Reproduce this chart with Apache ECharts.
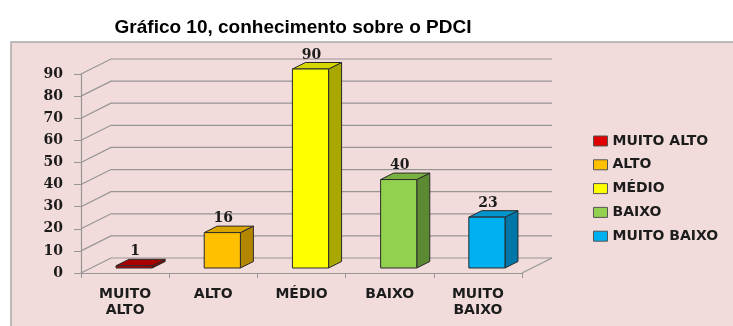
<!DOCTYPE html>
<html>
<head>
<meta charset="utf-8">
<script src="https://cdn.jsdelivr.net/npm/echarts@6/dist/echarts.min.js"></script>
<style>
  html, body { margin: 0; padding: 0; background: #ffffff; }
  #chart { width: 733px; height: 326px; }
</style>
</head>
<body>
<div id="chart"></div>
<script>
// Survey answers: knowledge about the PDCI
const categories = ['MUITO ALTO', 'ALTO', 'MÉDIO', 'BAIXO', 'MUITO BAIXO'];
const values = [1, 16, 90, 40, 23];
const yTicks = [0, 10, 20, 30, 40, 50, 60, 70, 80, 90];

// face colours per bar: front, side, top, legend swatch
const palette = [
  { front: '#C00000', side: '#8A0000', top: '#A80000', key: '#E00000' },
  { front: '#FFC000', side: '#B38600', top: '#D9A400', key: '#FFC000' },
  { front: '#FFFF00', side: '#A8A800', top: '#D6D600', key: '#FFFF00' },
  { front: '#92D050', side: '#5C8A32', top: '#7AB040', key: '#92D050' },
  { front: '#00B0F0', side: '#0076A8', top: '#0094CC', key: '#00B0F0' }
];

// pseudo-3D depth of the plot (back wall offset) and of each bar
const WALL_DX = 30, WALL_DY = -15;
const BAR_OFF_DX = 9, BAR_OFF_DY = -5;
const BAR_DX = 13, BAR_DY = -6.5;
const GRID_COLOR = '#959595';
const TEXT_COLOR = '#1c1c1c';

const chart = echarts.init(document.getElementById('chart'), null, { renderer: 'canvas' });

function renderWall(params, api) {
  const cs = params.coordSys;
  const v = api.value(1);
  const y = api.coord([0, v])[1];
  const x0 = cs.x, x1 = cs.x + cs.width;
  const children = [{
    type: 'polyline',
    shape: { points: [[x0, y], [x0 + WALL_DX, y + WALL_DY], [x1 + WALL_DX, y + WALL_DY]] },
    style: { stroke: GRID_COLOR, lineWidth: 1.2, fill: null }
  }];
  if (v === 0) {
    children.push({
      type: 'line',
      shape: { x1: x1, y1: y, x2: x1 + WALL_DX, y2: y + WALL_DY },
      style: { stroke: GRID_COLOR, lineWidth: 1.2 }
    });
  }
  return { type: 'group', children: children };
}

function makeBarRenderer(idx) {
  const c = palette[idx];
  return function (params, api) {
    const cat = api.value(0);
    const val = api.value(1);
    const base = api.coord([cat, 0]);
    const top = api.coord([cat, val]);
    const bw = api.size([1, 0])[0] * 0.41;
    const cx = base[0] + BAR_OFF_DX;
    const xl = cx - bw / 2, xr = cx + bw / 2;
    const yb = base[1] + BAR_OFF_DY, yt = top[1] + BAR_OFF_DY;
    const edge = { stroke: '#2a2a2a', lineWidth: 1, lineJoin: 'round' };
    return {
      type: 'group',
      children: [
        { type: 'polygon', shape: { points: [[xr, yt], [xr + BAR_DX, yt + BAR_DY], [xr + BAR_DX, yb + BAR_DY], [xr, yb]] },
          style: Object.assign({ fill: c.side }, edge) },
        { type: 'polygon', shape: { points: [[xl, yt], [xl + BAR_DX, yt + BAR_DY], [xr + BAR_DX, yt + BAR_DY], [xr, yt]] },
          style: Object.assign({ fill: c.top }, edge) },
        { type: 'rect', shape: { x: xl, y: yt, width: bw, height: Math.max(yb - yt, 0.5) },
          style: Object.assign({ fill: c.front }, edge) },
        { type: 'text', x: cx + 1, y: yt - 14,
          style: { text: String(val), fill: TEXT_COLOR, align: 'center', verticalAlign: 'middle',
                   font: 'bold 14px "DejaVu Serif"' } }
      ]
    };
  };
}

const series = [{
  type: 'custom',
  name: '_wall',
  silent: true,
  z: 1,
  renderItem: renderWall,
  encode: { x: 0, y: 1 },
  data: yTicks.map(function (t) { return [0, t]; })
}];

categories.forEach(function (name, i) {
  series.push({
    type: 'custom',
    name: name,
    z: 5,
    itemStyle: { color: palette[i].key },
    renderItem: makeBarRenderer(i),
    encode: { x: 0, y: 1 },
    data: [[i, values[i]]]
  });
});

chart.setOption({
  animation: false,
  backgroundColor: '#ffffff',
  title: {
    text: 'Gráfico 10, conhecimento sobre o PDCI',
    left: 288,
    textAlign: 'center',
    top: 13,
    textStyle: { fontFamily: 'Liberation Sans', fontWeight: 'bold', fontSize: 19, color: '#000000' }
  },
  graphic: [{
    type: 'rect',
    z: -10,
    silent: true,
    shape: { x: 11, y: 42, width: 740, height: 300 },
    style: { fill: '#F2DCDB', stroke: '#a9a9a9', lineWidth: 1.5 }
  }],
  grid: { left: 81, top: 74, width: 441, height: 199, containLabel: false },
  xAxis: {
    type: 'category',
    data: categories,
    boundaryGap: true,
    axisLine: { show: true, lineStyle: { color: GRID_COLOR, width: 1.2 } },
    axisTick: { show: true, length: 5, alignWithLabel: false, lineStyle: { color: GRID_COLOR } },
    axisLabel: {
      margin: 13,
      interval: 0,
      color: TEXT_COLOR,
      fontFamily: 'DejaVu Sans',
      fontWeight: 'bold',
      fontSize: 14,
      lineHeight: 16,
      formatter: function (v) { return v.replace(' ', '\n'); }
    },
    splitLine: { show: false }
  },
  yAxis: {
    type: 'value',
    min: 0,
    max: 90,
    interval: 10,
    axisLine: { show: true, lineStyle: { color: GRID_COLOR, width: 1.2 } },
    axisTick: { show: true, length: 7, lineStyle: { color: GRID_COLOR } },
    axisLabel: {
      margin: 18,
      color: TEXT_COLOR,
      fontFamily: 'DejaVu Serif',
      fontWeight: 'bold',
      fontSize: 14
    },
    splitLine: { show: false }
  },
  legend: {
    orient: 'vertical',
    left: 588,
    top: 128,
    selectedMode: false,
    itemWidth: 14,
    itemHeight: 10,
    itemGap: 7.8,
    icon: 'rect',
    itemStyle: { borderColor: '#555555', borderWidth: 1 },
    textStyle: { color: TEXT_COLOR, fontFamily: 'DejaVu Sans', fontWeight: 'bold', fontSize: 14, lineHeight: 16 },
    data: categories.map(function (n, i) { return { name: n, itemStyle: { color: palette[i].key } }; })
  },
  series: series
});
</script>
</body>
</html>
